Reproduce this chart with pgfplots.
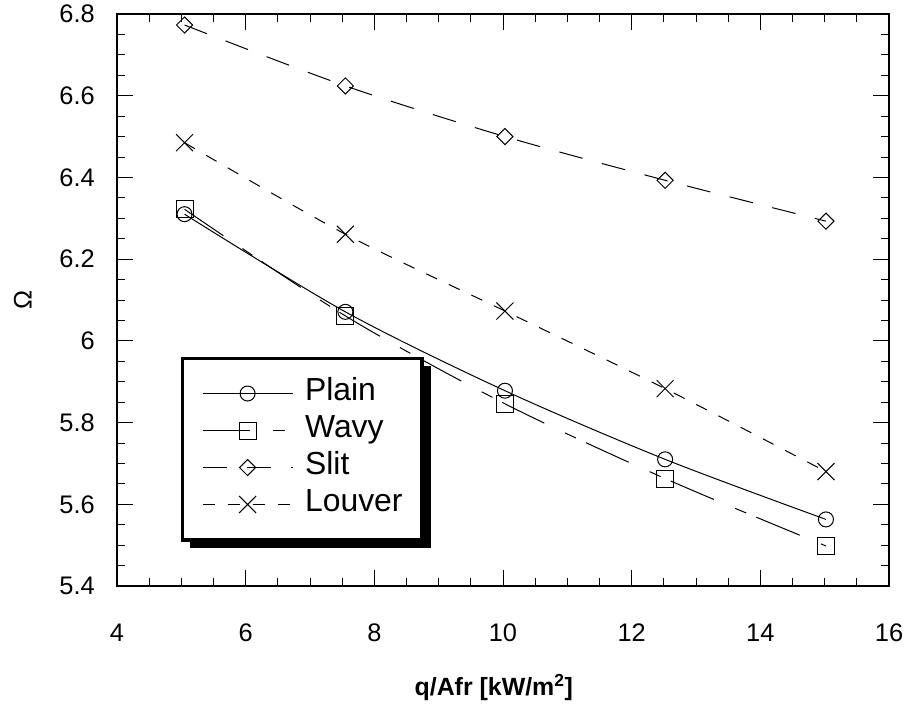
\documentclass[border=0pt]{standalone}
\usepackage{fontspec}
\setmainfont{Liberation Sans}
\usepackage{pgfplots}
\pgfplotsset{compat=1.18}
\begin{document}
\begin{tikzpicture}
\begin{axis}[
  width=772bp, height=572bp, scale only axis,
  xmin=4, xmax=16, ymin=5.4, ymax=6.8,
  xtick={4,6,...,16}, ytick={5.4,5.6,5.8,6,6.2,6.4,6.6,6.8},
  minor x tick num=3, minor y tick num=3,
  tick align=inside, tickpos=both,
  major tick length=16bp, minor tick length=8bp,
  every tick/.style={black, line width=0.9bp},
  axis line style={line width=1.3bp},
  /pgf/number format/assume math mode=true,
  tick label style={font=\fontsize{25.5}{30}\selectfont},
  xticklabel style={anchor=north, inner sep=0pt, yshift=-38bp},
  yticklabel style={anchor=east, inner sep=0pt, xshift=-22bp},
  xlabel={\textbf{q/Afr [kW/m\textsuperscript{2}]}},
  xlabel style={font=\fontsize{25}{30}\selectfont, at={(rel axis cs:0.488,-0.178)}, anchor=center},
  ylabel={Ω},
  ylabel style={font=\fontsize{25.5}{30}\selectfont, at={(rel axis cs:-0.122,0.5)}, anchor=center, rotate=0},
  legend style={name=leg, at={(rel axis cs:0.084,0.399)}, anchor=north west,
    draw=black, line width=2.5bp, fill=white,
    font=\fontsize{32}{38}\selectfont,
    inner xsep=19bp, inner ysep=16bp, row sep=0bp, column sep=12bp,
    nodes={inner xsep=0pt, inner ysep=0pt, text height=25bp, text depth=12bp},
    cells={anchor=west}},
  legend image code/.code={\draw[mark repeat=2,mark phase=2,#1,sharp plot] plot coordinates {(0bp,0bp) (45bp,0bp) (90bp,0bp)};},
  every axis plot/.append style={black, line width=1bp, smooth},
]
\addplot[mark=o, mark size=7.5bp, mark options={solid, line width=1bp}] coordinates {(5.05,6.310) (7.55,6.071) (10.03,5.878) (12.52,5.710) (15.02,5.563)};
\addlegendentry{Plain}
\addplot[mark=square, mark size=8.5bp, mark options={solid, line width=1bp}, dash pattern=on 47bp off 23bp on 12bp off 11bp] coordinates {(5.05,6.322) (7.55,6.061) (10.03,5.846) (12.52,5.663) (15.02,5.498)};
\addlegendentry{Wavy}
\addplot[mark=square, mark size=5.7bp, mark options={solid, line width=1bp, rotate=45}, dash pattern=on 24bp off 20bp] coordinates {(5.05,6.773) (7.55,6.624) (10.03,6.500) (12.52,6.393) (15.02,6.293)};
\addlegendentry{Slit}
\addplot[mark=x, mark size=12bp, mark options={solid, line width=1bp}, dash pattern=on 12bp off 13bp] coordinates {(5.05,6.485) (7.55,6.261) (10.03,6.073) (12.52,5.883) (15.02,5.680)};
\addlegendentry{Louver}
\coordinate (bl) at (rel axis cs:0,0);
\coordinate (tr) at (rel axis cs:1,1);
\end{axis}
\draw[black, line width=2.5bp] (leg.south west) rectangle (leg.north east);
\fill[black] ([shift={(0bp,-8bp)}]leg.south east) rectangle ([shift={(8bp,-8bp)}]leg.north east);
\fill[black] ([shift={(8bp,-8bp)}]leg.south west) rectangle ([shift={(8bp,0bp)}]leg.south east);
\pgfresetboundingbox
\path ([shift={(-117bp,-129bp)}]bl) rectangle ([shift={(17bp,14bp)}]tr);
\end{tikzpicture}
\end{document}
